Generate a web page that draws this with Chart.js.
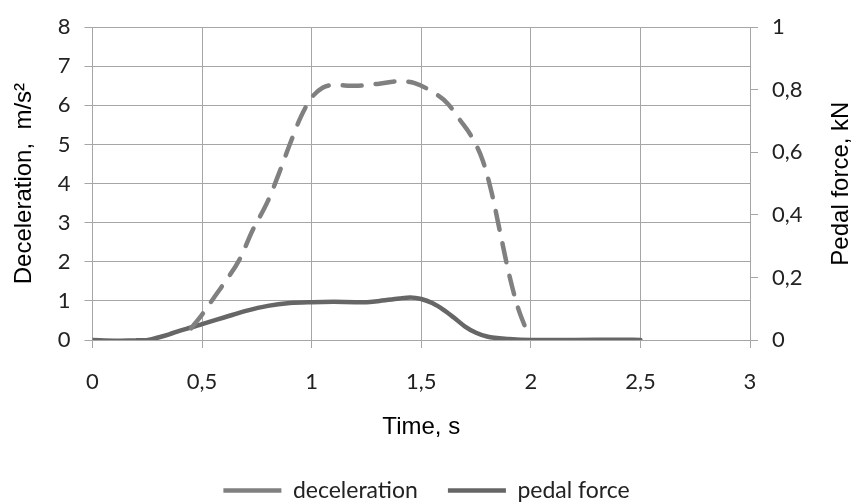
<!DOCTYPE html>
<html>
<head>
<meta charset="utf-8">
<script src="https://cdn.jsdelivr.net/npm/chart.js@4"></script>
<style>
  html, body { margin: 0; padding: 0; background: #fff; }
  #wrap { width: 853px; height: 504px; }
</style>
</head>
<body>
<div id="wrap"><canvas id="brakeChart" width="853" height="504"></canvas></div>
<script>
// deceleration, m/s2 (left axis)
var decelTime = [0.45, 0.5, 0.55, 0.6, 0.67, 0.73, 0.8, 0.85, 0.9, 0.95, 1.0, 1.05, 1.1, 1.2, 1.3, 1.4, 1.47, 1.55, 1.62, 1.68, 1.73, 1.78, 1.82, 1.86, 1.9, 1.94, 1.98];
var decelValues = [0.3, 0.65, 1.05, 1.45, 2.05, 2.8, 3.55, 4.25, 5.0, 5.7, 6.2, 6.45, 6.52, 6.5, 6.55, 6.62, 6.57, 6.35, 6.05, 5.6, 5.2, 4.6, 3.8, 2.75, 1.7, 0.85, 0.25];

// pedal force, kN (right axis)
var pedalTime = [0, 0.1, 0.2, 0.25, 0.3, 0.35, 0.4, 0.45, 0.5, 0.6, 0.7, 0.8, 0.9, 1.0, 1.1, 1.2, 1.25, 1.3, 1.4, 1.45, 1.5, 1.55, 1.6, 1.65, 1.7, 1.75, 1.8, 1.9, 2.0, 2.2, 2.4, 2.5];
var pedalValues = [0, -0.002, -0.001, 0, 0.008, 0.018, 0.03, 0.04, 0.051, 0.072, 0.093, 0.109, 0.118, 0.121, 0.122, 0.121, 0.121, 0.124, 0.133, 0.136, 0.131, 0.118, 0.097, 0.071, 0.043, 0.023, 0.011, 0.003, 0, 0, 0.001, 0];

var timeTicks = [0, 0.5, 1, 1.5, 2, 2.5, 3];

function toPoints(xs, ys) {
    var pts = [];
    for (var i = 0; i < xs.length; i++) {
        pts.push({x: xs[i], y: ys[i]});
    }
    return pts;
}

function comma(v) {
    return String(Math.round(v * 10) / 10).replace('.', ',');
}

var tickFont = {family: 'Lato', size: 22};
var titleFont = {family: 'Liberation Sans', size: 24};
var gridColor = '#a6a6a6';

// Chart.js turns right-hand titles the other way, so draw this one by hand
var rightTitle = {
    id: 'rightTitle',
    afterDraw: function(chart) {
        var c = chart.ctx;
        var area = chart.chartArea;
        c.save();
        c.translate(841, (area.top + area.bottom) / 2);
        c.rotate(-Math.PI / 2);
        c.font = '24px "Liberation Sans"';
        c.fillStyle = '#000';
        c.textAlign = 'center';
        c.textBaseline = 'middle';
        c.fillText('Pedal force, kN', 0, 0);
        c.restore();
    }
};

var ctx = document.getElementById('brakeChart');

var chart = new Chart(ctx, {
    type: 'line',
    data: {
        datasets: [{
            label: 'deceleration',
            data: toPoints(decelTime, decelValues),
            yAxisID: 'y',
            borderColor: '#808080',
            backgroundColor: '#808080',
            borderWidth: 4.5,
            borderDash: [19, 14],
            borderCapStyle: 'round',
            pointRadius: 0,
            cubicInterpolationMode: 'monotone',
            fill: false
        }, {
            label: 'pedal force',
            data: toPoints(pedalTime, pedalValues),
            yAxisID: 'y1',
            borderColor: '#666666',
            backgroundColor: '#666666',
            borderWidth: 4.5,
            borderCapStyle: 'round',
            pointRadius: 0,
            cubicInterpolationMode: 'monotone',
            fill: false
        }]
    },
    options: {
        responsive: false,
        animation: false,
        layout: {padding: {left: 0, right: 0, top: 24, bottom: -8}},
        scales: {
            x: {
                type: 'linear',
                min: 0,
                max: 3,
                afterBuildTicks: function(scale) {
                    scale.ticks = timeTicks.map(function(v) { return {value: v}; });
                },
                afterFit: function(scale) { scale.height = 109; },
                grid: {color: gridColor, tickLength: 8, drawTicks: true},
                border: {color: gridColor},
                ticks: {font: tickFont, color: '#222', padding: 21, maxRotation: 0,
                    callback: function(v) { return comma(v); }},
                title: {display: true, text: 'Time, s', font: titleFont, color: '#000',
                    padding: {top: 0, bottom: 7}}
            },
            y: {
                position: 'left',
                min: 0,
                max: 8,
                afterFit: function(scale) { scale.width = 92.5; },
                grid: {color: gridColor, tickLength: 8},
                border: {color: gridColor},
                ticks: {stepSize: 1, font: tickFont, color: '#222', padding: 14},
                title: {display: true, text: 'Deceleration,  m/s²', font: titleFont, color: '#000',
                    padding: {top: 10, bottom: 0}}
            },
            y1: {
                position: 'right',
                min: 0,
                max: 1,
                afterFit: function(scale) { scale.width = 103; },
                grid: {drawOnChartArea: false, color: gridColor, tickLength: 8},
                border: {color: gridColor},
                ticks: {stepSize: 0.2, font: tickFont, color: '#222', padding: 14,
                    callback: function(v) { return comma(v); }}
            }
        },
        plugins: {
            legend: {
                position: 'bottom',
                labels: {
                    font: {family: 'Lato', size: 23},
                    color: '#222',
                    usePointStyle: true,
                    pointStyle: 'line',
                    pointStyleWidth: 58,
                    boxWidth: 58,
                    padding: 30
                }
            },
            tooltip: {enabled: false}
        }
    },
    plugins: [rightTitle]
});
</script>
</body>
</html>
